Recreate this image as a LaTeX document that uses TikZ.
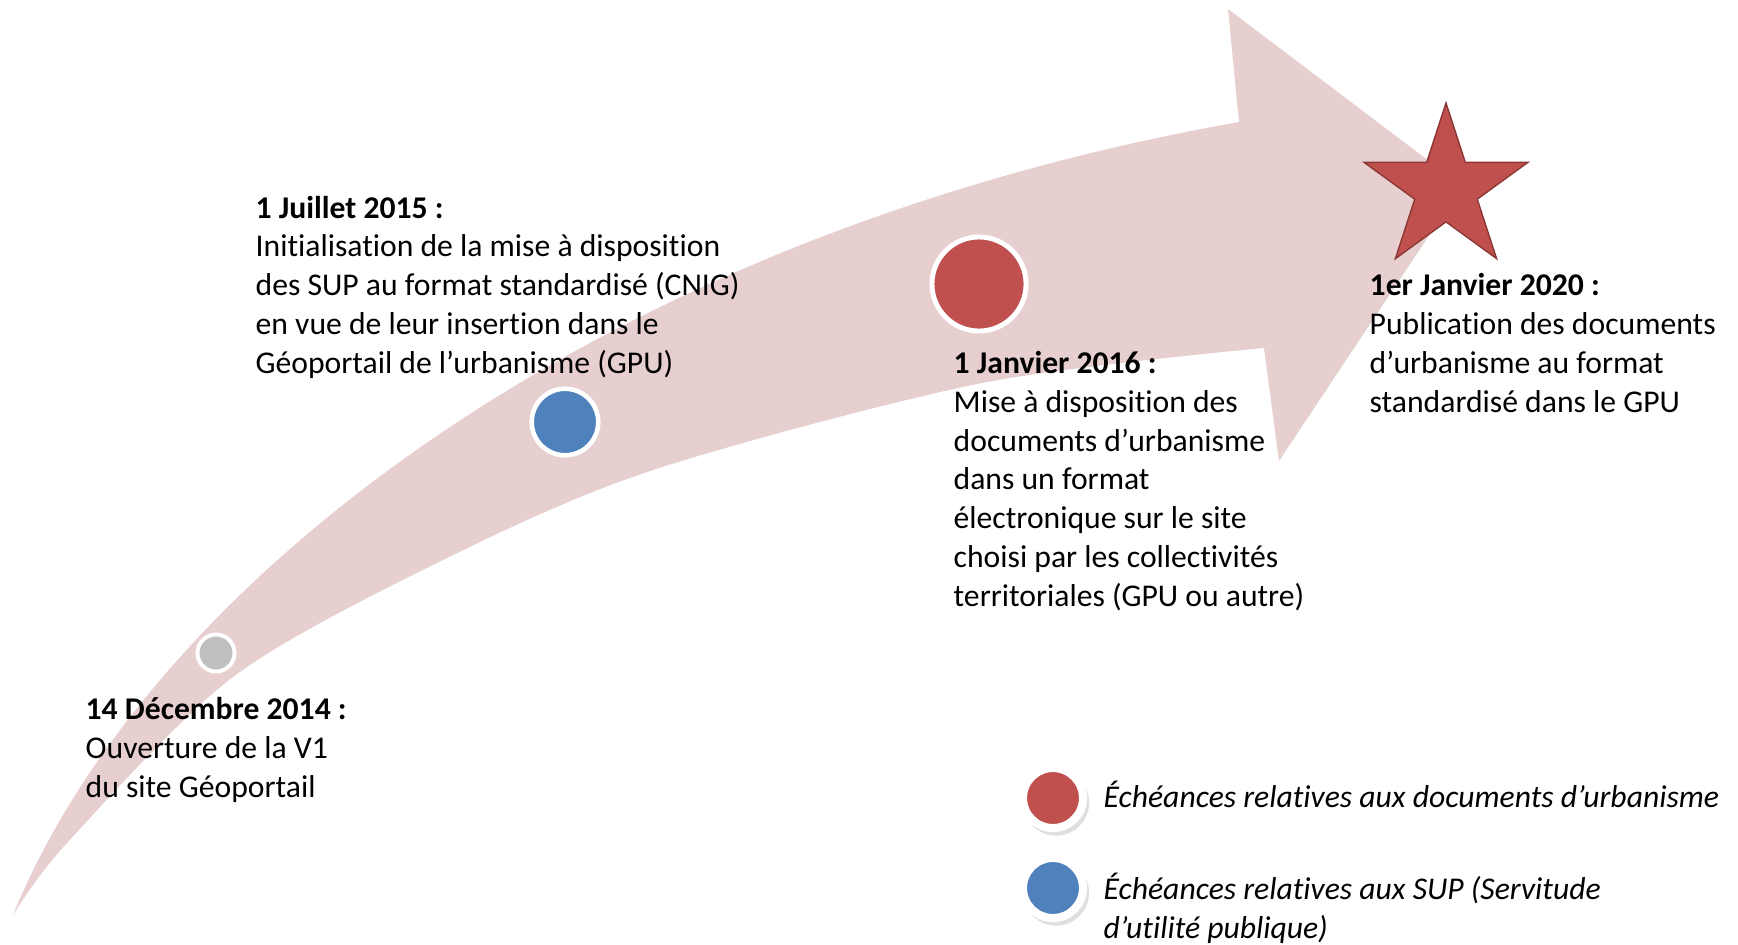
\documentclass[tikz,border=0pt]{standalone}
\usepackage{fontspec}
\setmainfont{Carlito}[Ligatures=NoCommon]
\usetikzlibrary{shapes.geometric,shadows}
\definecolor{arrowpink}{HTML}{E7CFD0}
\definecolor{docred}{HTML}{C0504D}
\definecolor{supblue}{HTML}{4F81BD}
\definecolor{v1grey}{HTML}{BFBFBF}
\definecolor{starline}{HTML}{8C3836}

\begin{document}
\begin{tikzpicture}[x=0.01cm, y=-0.01cm,
    every node/.style={font=\fontsize{9}{11}\selectfont},
    milestone/.style={circle, inner sep=0, draw=white},
    datetext/.style={anchor=base west, align=left, inner sep=0},
    legendmark/.style={milestone, fill=#1, minimum size=0.6cm, line width=2.3pt,
        drop shadow={shadow xshift=0.8pt, shadow yshift=-1.2pt, shadow scale=1.1, opacity=0.25}}]
    \useasboundingbox (0,0) rectangle (1738,945);
	\fill[arrowpink] (13,915) .. controls (150,580) and (600,235) .. (1239,122)
	    -- (1228,9) -- (1462,186) -- (1279,461)
	    -- plot[smooth] coordinates {(1264,348) (982,383) (653,470) (443,560) (233,677) (67,843) (13,915)} -- cycle;
	\node[milestone, fill=v1grey, minimum size=0.37cm, line width=1.1pt] (pt14) at (216,653) {};
	\node[milestone, fill=supblue, minimum size=0.665cm, line width=1.3pt] (pt15) at (565,422) {};
	\node[milestone, fill=docred, minimum size=0.94cm, line width=1.4pt] (pt16) at (979,284) {};
	\node[star, star points=5, star point ratio=2.618, minimum size=1.72cm, inner sep=0,
	    fill=docred, draw=starline, line width=0.4pt] (star20) at (1446,189) {};
	\node[datetext] (dec14) at (85,797) {\textbf{14 Décembre 2014 :}\\Ouverture de la V1\\du site Géoportail};
	\node[datetext] (jul15) at (255,373) {\textbf{1 Juillet 2015 :}\\Initialisation de la mise à disposition\\des SUP au format standardisé (CNIG)\\en vue de leur insertion dans le\\Géoportail de l’urbanisme (GPU)};
	\node[datetext] (jan16) at (953,606) {\textbf{1 Janvier 2016 :}\\Mise à disposition des\\documents d’urbanisme\\dans un format\\électronique sur le site\\choisi par les collectivités\\territoriales (GPU ou autre)};
	\node[datetext] (jan20) at (1369,412) {\textbf{1er Janvier 2020 :}\\Publication des documents\\d’urbanisme au format\\standardisé dans le GPU};
	\node[legendmark=docred] (legdoc) at (1053,798) {};
	\node[legendmark=supblue] (legsup) at (1053,888) {};
	\node[datetext, font=\fontsize{9}{11}\selectfont\itshape] (txtdoc) at (1103,807) {Échéances relatives aux documents d’urbanisme};
	\node[datetext, font=\fontsize{9}{11}\selectfont\itshape] (txtsup) at (1103,938) {Échéances relatives aux SUP (Servitude\\d’utilité publique)};
\end{tikzpicture}
\end{document}
